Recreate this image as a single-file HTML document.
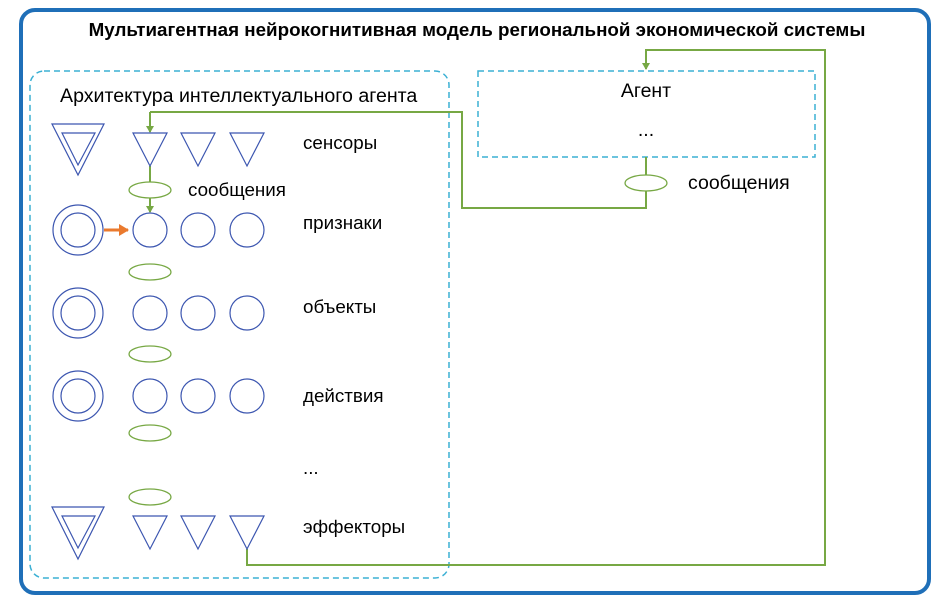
<!DOCTYPE html>
<html><head><meta charset="utf-8"><style>body{margin:0;background:#fff}svg{display:block}text{font-family:"Liberation Sans","DejaVu Sans",sans-serif}</style></head><body>
<svg width="942" height="609" viewBox="0 0 942 609" xmlns="http://www.w3.org/2000/svg">
<defs>
<marker id="g" markerWidth="8" markerHeight="8" refX="6" refY="4" orient="auto" markerUnits="userSpaceOnUse"><path d="M0,0 L7,4 L0,8 z" fill="#77a844"/></marker>
<marker id="o" markerWidth="12" markerHeight="12" refX="9" refY="6" orient="auto" markerUnits="userSpaceOnUse"><path d="M0,0 L10,6 L0,12 z" fill="#ea7a2e"/></marker>
</defs>
<rect x="21" y="10" width="908" height="583" rx="14" fill="#fff" stroke="#1f6fb8" stroke-width="4"/>
<text x="477" y="36" font-size="18.8" font-weight="bold" text-anchor="middle" fill="#000">Мультиагентная нейрокогнитивная модель региональной экономической системы</text>
<rect x="30" y="71" width="419" height="507" rx="14" fill="none" stroke="#3bb0d4" stroke-width="1.5" stroke-dasharray="6,4"/>
<text x="60" y="102" font-size="19.6" fill="#000">Архитектура интеллектуального агента</text>
<rect x="478" y="71" width="337" height="86" fill="none" stroke="#3bb0d4" stroke-width="1.5" stroke-dasharray="6,4"/>
<text x="646" y="97" font-size="19.5" text-anchor="middle">Агент</text>
<text x="646" y="136" font-size="19.5" text-anchor="middle">...</text>
<g fill="none" stroke="#77a844" stroke-width="2">
<path d="M150,112 H462 V208 H646 V157"/>
<path d="M150,112 V132" marker-end="url(#g)"/>
<path d="M150,166 V212" marker-end="url(#g)"/>
<path d="M247,549 V565 H825 V50 H646 V69" marker-end="url(#g)"/>
</g>
<path d="M104,230 H128" stroke="#ea7a2e" stroke-width="3" fill="none" marker-end="url(#o)"/>
<g fill="#fff" stroke="#77a844" stroke-width="1.3">
<ellipse cx="150" cy="190" rx="21" ry="8"/>
<ellipse cx="150" cy="272" rx="21" ry="8"/>
<ellipse cx="150" cy="354" rx="21" ry="8"/>
<ellipse cx="150" cy="433" rx="21" ry="8"/>
<ellipse cx="150" cy="497" rx="21" ry="8"/>
<ellipse cx="646" cy="183" rx="21" ry="8"/>
</g>
<g fill="none" stroke="#3c56b0" stroke-width="1.2">
<path d="M52,124 H104 L78,175 Z"/><path d="M62,133 H95 L78,165 Z"/>
<path d="M133,133 H167 L150,166 Z"/><path d="M181,133 H215 L198,166 Z"/><path d="M230,133 H264 L247,166 Z"/>
<circle cx="78" cy="230" r="25"/><circle cx="78" cy="230" r="17"/>
<circle cx="150" cy="230" r="17"/><circle cx="198" cy="230" r="17"/><circle cx="247" cy="230" r="17"/>
<circle cx="78" cy="313" r="25"/><circle cx="78" cy="313" r="17"/>
<circle cx="150" cy="313" r="17"/><circle cx="198" cy="313" r="17"/><circle cx="247" cy="313" r="17"/>
<circle cx="78" cy="396" r="25"/><circle cx="78" cy="396" r="17"/>
<circle cx="150" cy="396" r="17"/><circle cx="198" cy="396" r="17"/><circle cx="247" cy="396" r="17"/>
<path d="M52,507 H104 L78,559 Z"/><path d="M62,516 H95 L78,548 Z"/>
<path d="M133,516 H167 L150,549 Z"/><path d="M181,516 H215 L198,549 Z"/><path d="M230,516 H264 L247,549 Z"/>
</g>
<g font-size="18.8" fill="#000">
<text x="303" y="149">сенсоры</text>
<text x="188" y="196">сообщения</text>
<text x="303" y="229">признаки</text>
<text x="303" y="313">объекты</text>
<text x="303" y="402">действия</text>
<text x="303" y="474">...</text>
<text x="303" y="533">эффекторы</text>
<text x="688" y="189" font-size="19.5">сообщения</text>
</g>
</svg>
</body></html>
